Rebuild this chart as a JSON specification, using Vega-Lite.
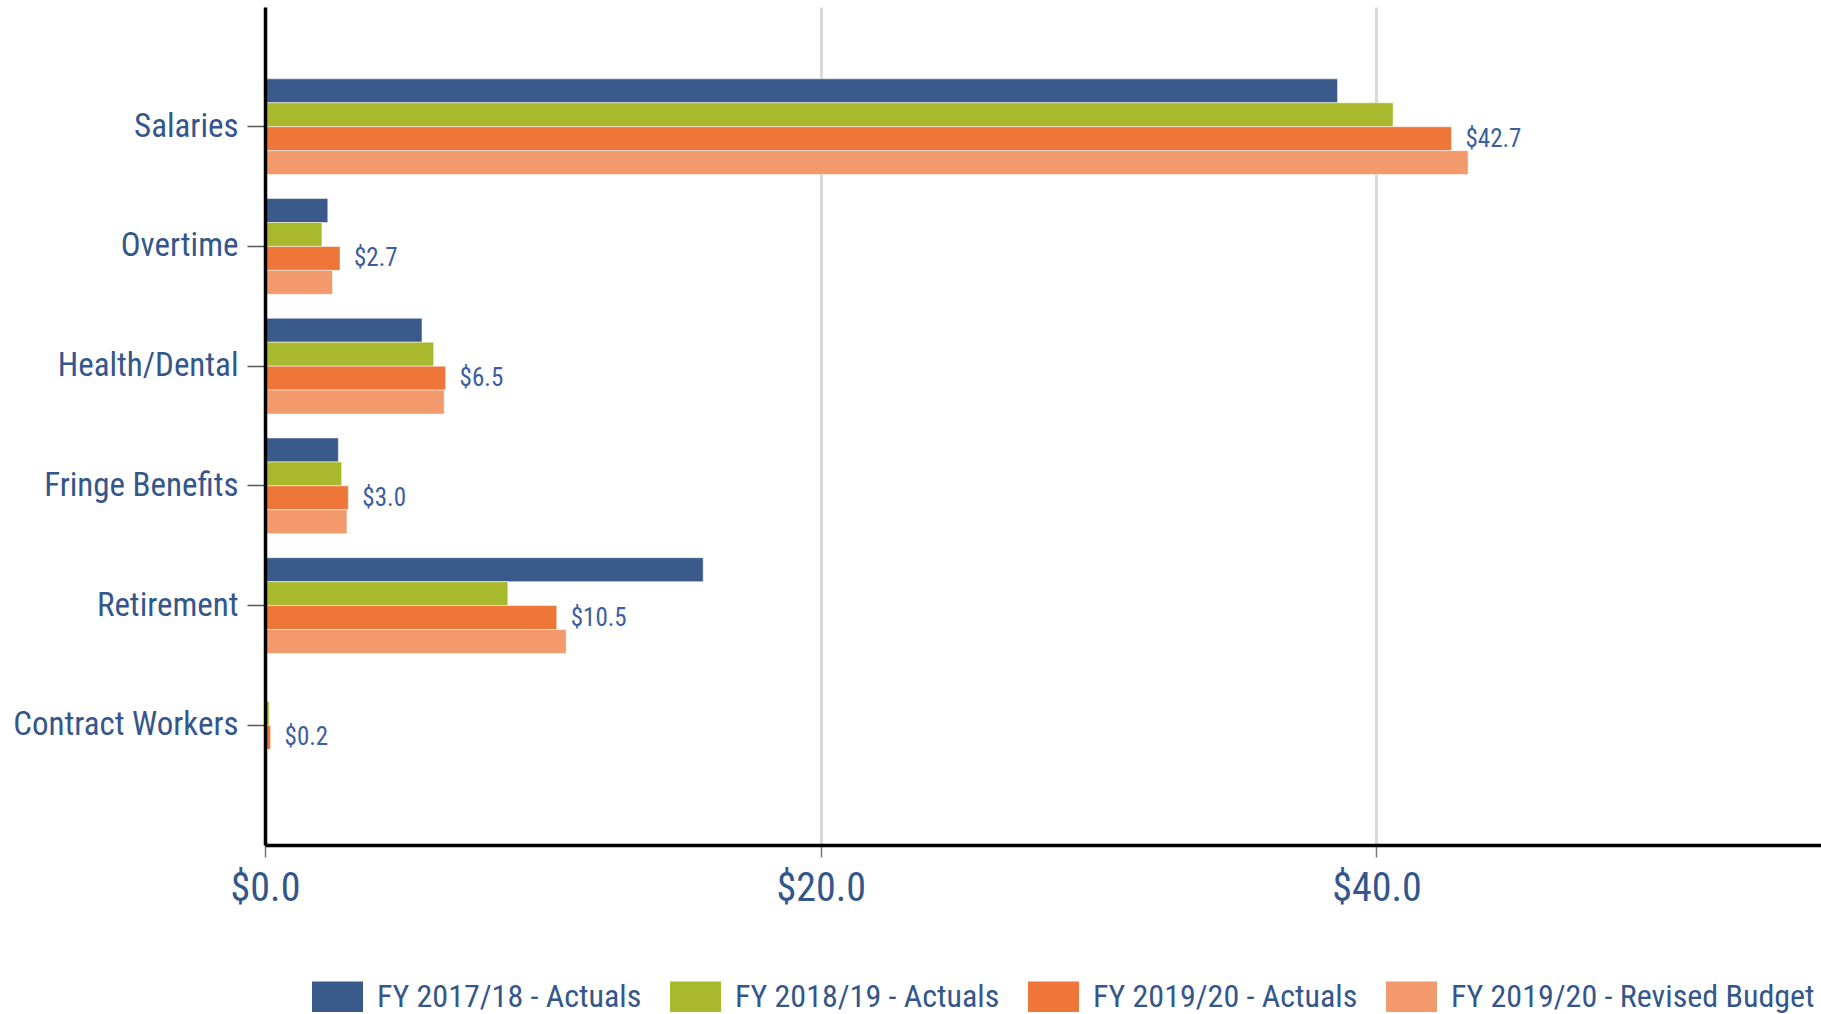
{
  "$schema": "https://vega.github.io/schema/vega-lite/v6.json",
  "width": 1556,
  "height": 838,
  "autosize": "none",
  "padding": {"left": 265, "top": 7, "right": 0, "bottom": 169},
  "background": "white",
  "config": {
    "font": "Liberation Sans Narrow, Roboto Condensed, DejaVu Sans Condensed, sans-serif",
    "view": {"stroke": null}
  },
  "data": {
    "values": [
      {"category": "Salaries", "series": "FY 2017/18 - Actuals", "value": 38.6},
      {"category": "Salaries", "series": "FY 2018/19 - Actuals", "value": 40.6},
      {"category": "Salaries", "series": "FY 2019/20 - Actuals", "value": 42.7},
      {"category": "Salaries", "series": "FY 2019/20 - Revised Budget", "value": 43.3},
      {"category": "Overtime", "series": "FY 2017/18 - Actuals", "value": 2.26},
      {"category": "Overtime", "series": "FY 2018/19 - Actuals", "value": 2.05},
      {"category": "Overtime", "series": "FY 2019/20 - Actuals", "value": 2.7},
      {"category": "Overtime", "series": "FY 2019/20 - Revised Budget", "value": 2.43},
      {"category": "Health/Dental", "series": "FY 2017/18 - Actuals", "value": 5.65},
      {"category": "Health/Dental", "series": "FY 2018/19 - Actuals", "value": 6.07},
      {"category": "Health/Dental", "series": "FY 2019/20 - Actuals", "value": 6.5},
      {"category": "Health/Dental", "series": "FY 2019/20 - Revised Budget", "value": 6.45},
      {"category": "Fringe Benefits", "series": "FY 2017/18 - Actuals", "value": 2.64},
      {"category": "Fringe Benefits", "series": "FY 2018/19 - Actuals", "value": 2.76},
      {"category": "Fringe Benefits", "series": "FY 2019/20 - Actuals", "value": 3.0},
      {"category": "Fringe Benefits", "series": "FY 2019/20 - Revised Budget", "value": 2.95},
      {"category": "Retirement", "series": "FY 2017/18 - Actuals", "value": 15.77},
      {"category": "Retirement", "series": "FY 2018/19 - Actuals", "value": 8.74},
      {"category": "Retirement", "series": "FY 2019/20 - Actuals", "value": 10.5},
      {"category": "Retirement", "series": "FY 2019/20 - Revised Budget", "value": 10.84},
      {"category": "Contract Workers", "series": "FY 2017/18 - Actuals", "value": 0},
      {"category": "Contract Workers", "series": "FY 2018/19 - Actuals", "value": 0.15},
      {"category": "Contract Workers", "series": "FY 2019/20 - Actuals", "value": 0.2},
      {"category": "Contract Workers", "series": "FY 2019/20 - Revised Budget", "value": 0.03}
    ]
  },
  "encoding": {
    "y": {
      "field": "category",
      "type": "nominal",
      "sort": ["Salaries", "Overtime", "Health/Dental", "Fringe Benefits", "Retirement", "Contract Workers"],
      "scale": {"paddingInner": 0.2, "paddingOuter": 0.6},
      "axis": {
        "title": null,
        "zindex": 1,
        "domainColor": "#000000",
        "domainWidth": 3.5,
        "tickColor": "#555555",
        "tickSize": 18,
        "tickWidth": 1.5,
        "labelFontSize": 33,
        "labelPadding": 9,
        "labelLimit": 0,
        "labelColor": "#34568B"
      }
    },
    "yOffset": {
      "field": "series",
      "type": "nominal",
      "sort": ["FY 2017/18 - Actuals", "FY 2018/19 - Actuals", "FY 2019/20 - Actuals", "FY 2019/20 - Revised Budget"]
    },
    "x": {
      "field": "value",
      "type": "quantitative",
      "scale": {"domain": [0, 56], "nice": false},
      "axis": {
        "title": null,
        "values": [0, 20, 40],
        "format": "$.1f",
        "zindex": 0,
        "domainColor": "#000000",
        "domainWidth": 3.5,
        "tickColor": "#777777",
        "tickSize": 12,
        "tickWidth": 1.5,
        "grid": true,
        "gridColor": "#d9d9d9",
        "gridWidth": 3,
        "labelFontSize": 40,
        "labelPadding": 11,
        "labelFlush": false,
        "labelColor": "#34568B"
      }
    }
  },
  "layer": [
    {
      "mark": {"type": "bar", "stroke": "white", "strokeWidth": 0.5},
      "encoding": {
        "color": {
          "field": "series",
          "type": "nominal",
          "sort": ["FY 2017/18 - Actuals", "FY 2018/19 - Actuals", "FY 2019/20 - Actuals", "FY 2019/20 - Revised Budget"],
          "scale": {
            "domain": ["FY 2017/18 - Actuals", "FY 2018/19 - Actuals", "FY 2019/20 - Actuals", "FY 2019/20 - Revised Budget"],
            "range": ["#3A5A8C", "#A8B92E", "#EE7639", "#F29A6B"]
          },
          "legend": {
            "title": null,
            "orient": "none",
            "legendX": 47,
            "legendY": 964,
            "direction": "horizontal",
            "columns": 4,
            "columnPadding": 28,
            "labelFontSize": 32,
            "labelColor": "#34568B",
            "labelOffset": 14,
            "labelLimit": 0,
            "symbolType": "M-1,-0.6H1V0.6H-1Z",
            "symbolSize": 2601,
            "symbolStrokeWidth": 0,
            "symbolOpacity": 1
          }
        }
      }
    },
    {
      "transform": [{"filter": "datum.series === 'FY 2019/20 - Actuals'"}],
      "mark": {"type": "text", "align": "left", "baseline": "middle", "dx": 14, "fontSize": 25, "color": "#3A5E9E"},
      "encoding": {
        "text": {"field": "value", "type": "quantitative", "format": "$.1f"}
      }
    }
  ]
}
